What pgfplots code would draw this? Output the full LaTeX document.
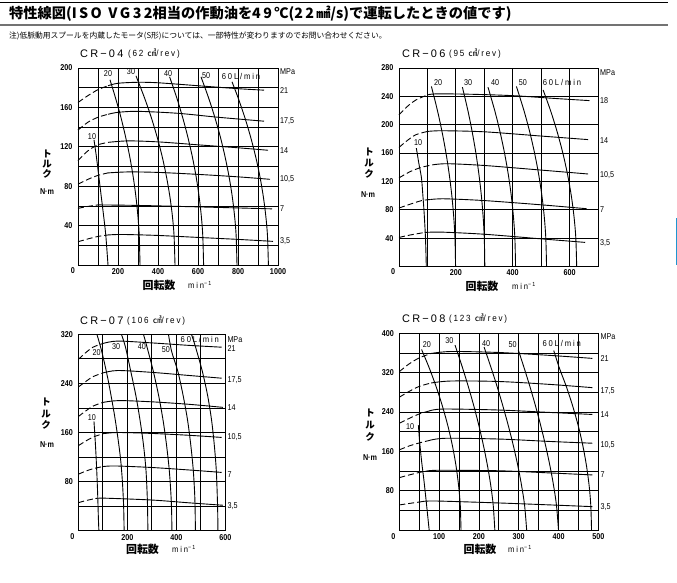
\documentclass[border=0pt]{standalone}
\usepackage{fontspec}
\usepackage{pgfplots}
\pgfplotsset{compat=1.18}
\setmainfont{Liberation Sans}
\newfontfamily\jp{Noto Sans CJK JP}
\newfontfamily\num[FakeStretch=0.85]{Liberation Sans}
\newfontfamily\spc[LetterSpace=20]{Liberation Sans}
\newfontfamily\spcs[LetterSpace=22,FakeStretch=0.9]{Liberation Sans}
\newfontfamily\spct[LetterSpace=20,FakeStretch=0.9]{Liberation Sans}
\definecolor{bluemark}{RGB}{30,150,210}

\pgfplotsset{
  panel/.style={
    scale only axis, anchor=south west, clip=false,
    axis line style={line width=0.9bp},
    grid=major, major grid style={black, line width=0.8bp},
    major tick length=0pt, tick style={draw=none},
    ticklabel style={font=\num\bfseries\fontsize{8.5}{8.5}\selectfont},
    yticklabel style={xshift=-2bp},
  },
  cv/.style={black, line width=0.9bp, smooth, mark=none},
  ds/.style={cv, dash pattern=on 6bp off 3bp},
}
\tikzset{
  rl/.style={anchor=west, inner sep=0pt, xshift=2bp, font=\num\fontsize{8.5}{8.5}\selectfont},
  fl/.style={inner sep=0pt, font=\num\fontsize{8.5}{8.5}\selectfont},
  fm/.style={inner sep=0pt, font=\spcs\fontsize{8.5}{8.5}\selectfont},
}

\begin{document}
\begin{tikzpicture}[x=1bp,y=1bp]
\path[use as bounding box] (0,0) rectangle (677,-583);

% header
\draw[line width=0.8bp] (0,-2) -- (668,-2);
\draw[black!55, line width=2bp] (0,-25) -- (668,-25);
\node[anchor=west, inner sep=0pt, font=\jp\bfseries\fontsize{14.3}{14.3}\selectfont] at (9,-14)
  {特性線図(I\,S\,O\ \ V\,G\,3\,2相当の作動油を4\,9\,℃(2\,2\,㎟/s)で運転したときの値です)};
\node[anchor=west, inner sep=0pt, font=\jp\fontsize{7.8}{7.8}\selectfont] at (9,-36)
  {注)低脈動用スプールを内蔵したモータ(S形)については、一部特性が変わりますのでお問い合わせください。};
\draw[draw=bluemark, line width=1bp] (676.5,-218) -- (676.5,-265);

% ---------------- CR-04 ----------------
\begin{axis}[panel, at={(78bp,-265bp)}, width=200bp, height=197bp,
  xmin=0, xmax=1000, ymin=0, ymax=200,
  xtick={0,100,...,1000}, xticklabels={,,200,,400,,600,,800,,1000},
  ytick={0,20,...,200}, yticklabels={,,40,,80,,120,,160,,200}]
\addplot[ds] coordinates {(0,165)(50,172)(100,178)(150,182)};
\addplot[cv] coordinates {(150,182)(200,184.5)(300,185.5)(400,185)(600,182)(800,179)(930,177.5)};
\addplot[ds] coordinates {(0,137)(50,145)(100,150)(150,153)};
\addplot[cv] coordinates {(150,153)(200,155)(300,156)(500,154)(700,150)(930,146)};
\addplot[ds] coordinates {(0,106)(50,116)(100,122)(150,124.5)};
\addplot[cv] coordinates {(150,124.5)(250,126)(400,125)(600,122)(800,119)(950,116.5)};
\addplot[ds] coordinates {(0,82)(50,87)(100,91)(150,93.5)};
\addplot[cv] coordinates {(150,93.5)(250,94.5)(400,94)(600,92)(800,89.5)(960,87)};
\addplot[ds] coordinates {(0,57.5)(50,59.5)(100,61)};
\addplot[cv] coordinates {(100,61)(300,60.5)(600,59)(970,57)};
\addplot[ds] coordinates {(0,23.6)(50,26.5)(100,29)(150,30.5)};
\addplot[cv] coordinates {(150,30.5)(220,31)(400,30)(600,28)(800,26)(975,24)};
% flow
\addplot[cv] coordinates {(80,127)(92,110)(104,90)(116,70)(128,50)(139,30)(150,0)};
\addplot[cv] coordinates {(160,188)(187,170)(214.5,150)(238,130)(258.7,110)(275.6,90)(289.2,70)(299.4,50)(306.2,30)(310,0)};
\addplot[cv] coordinates {(290,192)(332,170)(366,150)(395.6,130)(421,110)(442,90)(459,70)(471.8,50)(480.2,30)(485,0)};
\addplot[cv] coordinates {(458,191)(493.4,170)(523,150)(549,130)(571.6,110)(590.3,90)(605.2,70)(616.4,50)(623.8,30)(628,0)};
\addplot[cv] coordinates {(615,191)(652.4,170)(684,150)(711.7,130)(735.2,110)(755,90)(770.9,70)(782.7,50)(790.6,30)(795,0)};
\addplot[cv] coordinates {(770,186)(800,170)(833.7,150)(863,130)(888.3,110)(909.4,90)(926.2,70)(938.8,50)(947.3,30)(952,0)};
\node[fl] at (axis cs:150,194) {20};
\node[fl] at (axis cs:265,196) {30};
\node[fl] at (axis cs:450,194) {40};
\node[fl] at (axis cs:640,192) {50};
\node[fm] at (axis cs:815,191) {60L/min};
\node[fl] at (axis cs:70,130) {10};
\node[rl] at (axis cs:1000,196) {MPa};
\node[rl] at (axis cs:1000,177.5) {21};
\node[rl] at (axis cs:1000,146) {17,5};
\node[rl] at (axis cs:1000,116.5) {14};
\node[rl] at (axis cs:1000,87) {10,5};
\node[rl] at (axis cs:1000,57) {7};
\node[rl] at (axis cs:1000,24) {3,5};
\end{axis}

% ---------------- CR-06 ----------------
\begin{axis}[panel, at={(399bp,-266.5bp)}, width=199bp, height=198.5bp,
  xmin=0, xmax=700, ymin=0, ymax=280,
  xtick={0,100,...,700}, xticklabels={,,200,,400,,600,},
  ytick={0,40,...,280}, yticklabels={,40,80,120,160,200,240,280}]
\addplot[ds] coordinates {(0,214)(30,226)(60,235)(100,242)};
\addplot[cv] coordinates {(100,242)(130,243.5)(250,243)(400,241)(550,237)(670,234)};
\addplot[ds] coordinates {(0,168)(30,178)(60,186)(100,190.5)};
\addplot[cv] coordinates {(100,190.5)(150,191.5)(300,190)(500,184)(665,179)};
\addplot[ds] coordinates {(0,125)(40,134)(80,140)(120,143.5)};
\addplot[cv] coordinates {(120,143.5)(170,145)(300,142.5)(500,136)(665,130.5)};
\addplot[ds] coordinates {(0,82.5)(40,88)(80,93)(110,94.5)};
\addplot[cv] coordinates {(110,94.5)(160,95.5)(300,93)(500,87)(660,81.5)};
\addplot[ds] coordinates {(0,41)(40,44.5)(90,48)};
\addplot[cv] coordinates {(90,48)(150,48.5)(300,45.5)(500,39)(655,34)};
% flow
\addplot[cv] coordinates {(61,167)(70,145)(79,125)(84,100)(88,78)(92,50)(94,30)(96,0)};
\addplot[cv] coordinates {(114,254)(135.2,220)(151.4,190)(165.3,160)(176.7,130)(185.8,100)(192.5,70)(196.9,40)(199,0)};
\addplot[cv] coordinates {(223,253)(242.3,220)(257.4,190)(270.4,160)(281.1,130)(289.7,100)(296,70)(300,40)(302,0)};
\addplot[cv] coordinates {(313,253)(336.7,220)(355.3,190)(371.2,160)(384.4,130)(394.9,100)(402.6,70)(407.6,40)(410,0)};
\addplot[cv] coordinates {(413,254)(439.5,220)(459.7,190)(476.9,160)(491.2,130)(502.6,100)(511,70)(516.4,40)(519,0)};
\addplot[cv] coordinates {(507,249)(533,220)(556.3,190)(576.3,160)(592.8,130)(606,100)(615.7,70)(622,40)(625,0)};
\node[fl] at (axis cs:138,259.5) {20};
\node[fl] at (axis cs:243,259.5) {30};
\node[fl] at (axis cs:338,259.5) {40};
\node[fl] at (axis cs:436,259.5) {50};
\node[fm] at (axis cs:573,259.5) {60L/min};
\node[fl] at (axis cs:67,174.6) {10};
\node[rl] at (axis cs:700,273.6) {MPa};
\node[rl] at (axis cs:700,234) {18};
\node[rl] at (axis cs:700,177.5) {14};
\node[rl] at (axis cs:700,129) {10,5};
\node[rl] at (axis cs:700,80) {7};
\node[rl] at (axis cs:700,33) {3,5};
\end{axis}

% ---------------- CR-07 ----------------
\begin{axis}[panel, at={(78.3bp,-530.7bp)}, width=147bp, height=196.4bp,
  xmin=0, xmax=600, ymin=0, ymax=320,
  xtick={0,100,...,600}, xticklabels={,,200,,400,,600},
  ytick={0,40,...,320}, yticklabels={,,80,,160,,240,,320}]
\addplot[ds] coordinates {(0,279)(30,290)(60,299)(100,305)};
\addplot[cv] coordinates {(100,305)(160,309)(300,306)(450,302)(585,299)};
\addplot[ds] coordinates {(0,234)(30,243)(60,251)(100,257)};
\addplot[cv] coordinates {(100,257)(160,261)(300,258)(450,253)(585,248.5)};
\addplot[ds] coordinates {(0,186)(30,195)(60,203)(100,209)};
\addplot[cv] coordinates {(100,209)(165,212)(300,210)(450,206)(590,201)};
\addplot[ds] coordinates {(0,138.5)(30,146)(60,152.5)(100,158)};
\addplot[cv] coordinates {(100,158)(160,160)(300,158.5)(450,155.5)(585,152)};
\addplot[ds] coordinates {(0,92)(30,97)(60,101)(100,104.5)};
\addplot[cv] coordinates {(100,104.5)(150,105.5)(300,103)(450,99)(585,95)};
\addplot[ds] coordinates {(0,45.6)(30,49)(70,52.5)};
\addplot[cv] coordinates {(70,52.5)(110,53)(300,50)(450,45.5)(590,41.5)};
% flow
\addplot[cv] coordinates {(64,178)(70,140)(75,100)(79,60)(82,20)(84,0)};
\addplot[cv] coordinates {(76,320)(97,290)(122,245)(147,190)(162,150)(173,115)(180,80)(185,40)(187,0)};
\addplot[cv] coordinates {(176,320)(192,300)(214,260)(235,220)(252,180)(266,140)(276,100)(281,60)(283,30)(284,0)};
\addplot[cv] coordinates {(266,320)(280,300)(306,260)(328,220)(346,180)(360,140)(371,100)(378,60)(381,30)(382,0)};
\addplot[cv] coordinates {(368,320)(381,292)(406,260)(428,220)(446,180)(459,140)(469,100)(475,60)(477,30)(478,0)};
\addplot[cv] coordinates {(462,320)(478,300)(506,260)(528,220)(544,180)(555,140)(563,100)(567,60)(569,30)(570,0)};
\node[fl] at (axis cs:75,291) {20};
\node[fl] at (axis cs:154,299.5) {30};
\node[fl] at (axis cs:259,299.5) {40};
\node[fl] at (axis cs:357,295.7) {50};
\node[fm] at (axis cs:496,311.6) {60L/min};
\node[fl] at (axis cs:55,185) {10};
\node[rl] at (axis cs:600,312) {MPa};
\node[rl] at (axis cs:600,296) {21};
\node[rl] at (axis cs:600,245.5) {17,5};
\node[rl] at (axis cs:600,200) {14};
\node[rl] at (axis cs:600,152.6) {10,5};
\node[rl] at (axis cs:600,92) {7};
\node[rl] at (axis cs:600,40) {3,5};
\end{axis}

% ---------------- CR-08 ----------------
\begin{axis}[panel, at={(399.3bp,-530bp)}, width=199bp, height=196.7bp,
  xmin=0, xmax=500, ymin=0, ymax=400,
  xtick={0,50,...,500}, xticklabels={,,100,,200,,300,,400,,500},
  ytick={0,40,...,400}, yticklabels={,,80,,160,,240,,320,,400}]
\addplot[ds] coordinates {(0,322)(25,338)(50,350)(80,359)};
\addplot[cv] coordinates {(80,359)(130,363)(250,361)(380,355)(485,349)};
\addplot[ds] coordinates {(0,270)(25,282)(50,292)(80,299)};
\addplot[cv] coordinates {(80,299)(130,303)(250,302)(380,296)(485,289.5)};
\addplot[ds] coordinates {(0,217)(25,227)(50,236)(75,242)};
\addplot[cv] coordinates {(75,242)(110,246)(250,244)(380,239)(485,235)};
\addplot[ds] coordinates {(0,163)(25,171)(50,177)(75,182)};
\addplot[cv] coordinates {(75,182)(115,186.5)(250,185)(380,180)(485,176.5)};
\addplot[ds] coordinates {(0,106.5)(25,112)(50,117)(70,120)};
\addplot[cv] coordinates {(70,120)(100,121.5)(250,120.5)(380,116)(485,112)};
\addplot[ds] coordinates {(0,51)(25,54)(55,57.5)};
\addplot[cv] coordinates {(55,57.5)(90,59)(250,55)(380,51)(485,47.5)};
% flow
\addplot[cv] coordinates {(48,213)(51,180)(56,140)(62,100)(68,55)(75,0)};
\addplot[cv] coordinates {(56,367)(75,330)(93.2,290)(109,250)(122.6,210)(133.8,170)(142.6,130)(149,90)(153.2,50)(155,0)};
\addplot[cv] coordinates {(140,376)(158.8,330)(174,290)(188,250)(200.6,210)(211.9,170)(221.7,130)(229.9,90)(236,50)(240,0)};
\addplot[cv] coordinates {(213,372)(230.6,330)(246.4,290)(261,250)(274.6,210)(287,170)(298,130)(307.3,90)(314.8,50)(320,0)};
\addplot[cv] coordinates {(299,366)(313.5,330)(328.8,290)(343,250)(356,210)(368,170)(378.6,130)(387.7,90)(394.9,50)(400,0)};
\addplot[cv] coordinates {(388,365)(401.9,330)(420.4,290)(436.4,250)(450.2,210)(461.5,170)(470.4,130)(477,90)(481.1,50)(483,0)};
\node[fl] at (axis cs:69,377.6) {20};
\node[fl] at (axis cs:126,385) {30};
\node[fl] at (axis cs:218,379.6) {40};
\node[fl] at (axis cs:285,376.2) {50};
\node[fm] at (axis cs:408,379.6) {60L/min};
\node[fl] at (axis cs:27,210) {10};
\node[rl] at (axis cs:500,392.6) {MPa};
\node[rl] at (axis cs:500,348) {21};
\node[rl] at (axis cs:500,282.7) {17,5};
\node[rl] at (axis cs:500,234) {14};
\node[rl] at (axis cs:500,173) {10,5};
\node[rl] at (axis cs:500,112) {7};
\node[rl] at (axis cs:500,46.8) {3,5};
\end{axis}

% corner zeros
\begin{scope}[font=\num\bfseries\fontsize{8.5}{8.5}\selectfont]
\node at (73,-271) {0};
\node at (393,-272) {0};
\node at (72.3,-536.7) {0};
\node at (393.3,-536.7) {0};
\end{scope}

% panel titles
\begin{scope}[inner sep=0pt]
\node[anchor=west, font=\spc\fontsize{11}{11}\selectfont] at (80,-54) {CR−04};
\node[anchor=west, font=\spct\fontsize{9}{9}\selectfont] at (128,-54) {(62 {\jp ㎤}/rev)};
\node[anchor=west, font=\spc\fontsize{11}{11}\selectfont] at (402,-54) {CR−06};
\node[anchor=west, font=\spct\fontsize{9}{9}\selectfont] at (449,-54) {(95 {\jp ㎤}/rev)};
\node[anchor=west, font=\spc\fontsize{11}{11}\selectfont] at (80,-321) {CR−07};
\node[anchor=west, font=\spct\fontsize{9}{9}\selectfont] at (127,-321) {(106 {\jp ㎤}/rev)};
\node[anchor=west, font=\spc\fontsize{11}{11}\selectfont] at (402,-319) {CR−08};
\node[anchor=west, font=\spct\fontsize{9}{9}\selectfont] at (449,-319) {(123 {\jp ㎤}/rev)};
\end{scope}

% axis titles
\begin{scope}[font=\jp\bfseries\fontsize{11}{11}\selectfont]
\node at (159,-285) {回転数};
\node at (482,-286) {回転数};
\node at (142.5,-549) {回転数};
\node at (480,-549) {回転数};
\end{scope}
\begin{scope}[font=\spcs\fontsize{8.5}{8.5}\selectfont]
\node at (200,-285) {min\textsuperscript{−1}};
\node at (524,-286) {min\textsuperscript{−1}};
\node at (184,-549) {min\textsuperscript{−1}};
\node at (520,-549) {min\textsuperscript{−1}};
\end{scope}
\begin{scope}[font=\jp\bfseries\fontsize{9.5}{9.5}\selectfont]
\node at (47,-154) {ト}; \node at (47,-164) {ル}; \node at (47,-174) {ク};
\node at (369,-152) {ト}; \node at (369,-163) {ル}; \node at (369,-174) {ク};
\node at (46,-402) {ト}; \node at (46,-414) {ル}; \node at (46,-425) {ク};
\node at (370,-413) {ト}; \node at (370,-425) {ル}; \node at (370,-437) {ク};
\end{scope}
\begin{scope}[font=\num\bfseries\fontsize{8.5}{8.5}\selectfont]
\node at (47,-192) {N·m};
\node at (368,-195) {N·m};
\node at (47,-445) {N·m};
\node at (370,-458) {N·m};
\end{scope}
\end{tikzpicture}
\end{document}
